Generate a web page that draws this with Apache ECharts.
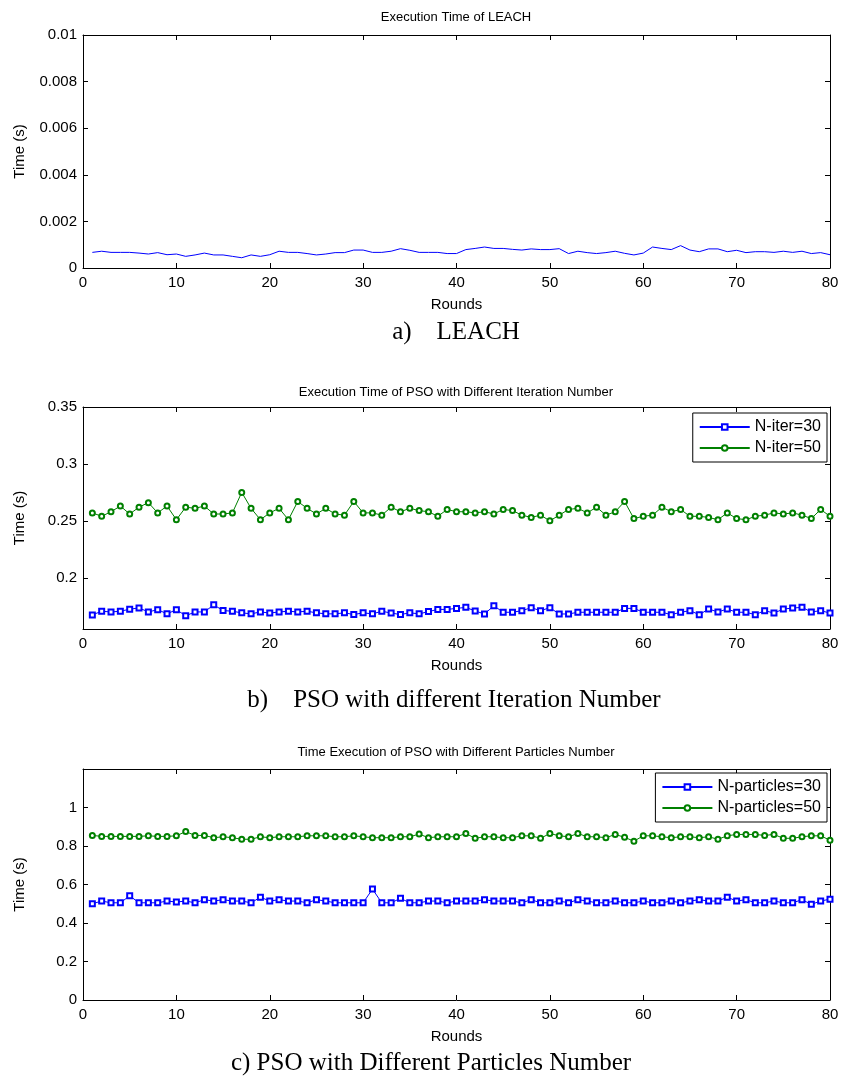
<!DOCTYPE html>
<html>
<head>
<meta charset="utf-8">
<script src="https://cdn.jsdelivr.net/npm/echarts@6/dist/echarts.min.js"></script>
<style>
html,body{margin:0;padding:0;background:#fff;}
#chart{width:849px;height:1080px;}
</style>
</head>
<body>
<div id="chart"></div>
<script>
// ---------- DATA ----------
const rounds = [1,2,3,4,5,6,7,8,9,10,11,12,13,14,15,16,17,18,19,20,
21,22,23,24,25,26,27,28,29,30,31,32,33,34,35,36,37,38,39,40,
41,42,43,44,45,46,47,48,49,50,51,52,53,54,55,56,57,58,59,60,
61,62,63,64,65,66,67,68,69,70,71,72,73,74,75,76,77,78,79,80];

const leachTime = [0.00067,0.00072,0.00067,0.00067,0.00067,0.00064,0.00060,0.00066,0.00057,0.00060,
0.00050,0.00056,0.00064,0.00056,0.00056,0.00050,0.00044,0.00056,0.00050,0.00057,
0.00072,0.00067,0.00067,0.00062,0.00056,0.00060,0.00066,0.00066,0.00077,0.00077,
0.00067,0.00067,0.00072,0.00083,0.00076,0.00067,0.00067,0.00067,0.00062,0.00062,
0.00079,0.00084,0.00090,0.00084,0.00084,0.00080,0.00077,0.00082,0.00079,0.00079,
0.00083,0.00062,0.00072,0.00066,0.00062,0.00066,0.00072,0.00063,0.00056,0.00064,
0.00090,0.00084,0.00079,0.00096,0.00077,0.00070,0.00082,0.00082,0.00070,0.00076,
0.00066,0.00070,0.00070,0.00067,0.00072,0.00067,0.00072,0.00062,0.00066,0.00057];

const iter30 = [0.1674,0.1706,0.1700,0.1706,0.1724,0.1735,0.1700,0.1720,0.1683,0.1720,
0.1666,0.1700,0.1700,0.1762,0.1712,0.1706,0.1692,0.1683,0.1700,0.1690,
0.1700,0.1706,0.1700,0.1706,0.1692,0.1683,0.1683,0.1692,0.1677,0.1692,
0.1683,0.1706,0.1690,0.1677,0.1692,0.1683,0.1703,0.1722,0.1722,0.1731,
0.1740,0.1708,0.1682,0.1754,0.1697,0.1697,0.1711,0.1737,0.1711,0.1737,
0.1682,0.1682,0.1697,0.1697,0.1697,0.1697,0.1697,0.1731,0.1731,0.1697,
0.1697,0.1697,0.1676,0.1697,0.1711,0.1676,0.1725,0.1700,0.1725,0.1697,
0.1697,0.1676,0.1711,0.1690,0.1725,0.1734,0.1740,0.1700,0.1711,0.1690];

const iter50 = [0.257,0.254,0.258,0.263,0.256,0.262,0.266,0.257,0.263,0.251,
0.262,0.261,0.263,0.256,0.256,0.257,0.275,0.261,0.251,0.257,
0.261,0.251,0.267,0.261,0.256,0.261,0.256,0.255,0.267,0.257,
0.257,0.255,0.262,0.258,0.261,0.259,0.258,0.254,0.260,0.258,
0.258,0.257,0.258,0.256,0.260,0.259,0.255,0.253,0.255,0.250,
0.255,0.260,0.261,0.257,0.262,0.255,0.258,0.267,0.252,0.254,
0.255,0.262,0.258,0.260,0.254,0.254,0.253,0.251,0.257,0.252,
0.251,0.254,0.255,0.257,0.256,0.257,0.255,0.252,0.260,0.254];

const part30 = [0.500,0.514,0.505,0.505,0.541,0.505,0.505,0.505,0.514,0.509,
0.514,0.505,0.521,0.514,0.521,0.514,0.514,0.505,0.534,0.514,
0.521,0.514,0.514,0.505,0.521,0.514,0.505,0.505,0.505,0.505,
0.576,0.505,0.505,0.528,0.505,0.505,0.514,0.514,0.505,0.514,
0.514,0.514,0.521,0.514,0.514,0.514,0.505,0.521,0.505,0.505,
0.514,0.505,0.521,0.514,0.505,0.505,0.514,0.505,0.505,0.514,
0.505,0.505,0.514,0.505,0.514,0.521,0.514,0.514,0.534,0.514,
0.521,0.505,0.505,0.514,0.505,0.505,0.521,0.497,0.514,0.524];

const part50 = [0.855,0.850,0.850,0.850,0.850,0.850,0.853,0.850,0.850,0.853,
0.875,0.855,0.855,0.843,0.848,0.843,0.835,0.835,0.848,0.843,
0.848,0.848,0.848,0.853,0.853,0.853,0.848,0.848,0.853,0.848,
0.843,0.843,0.843,0.848,0.848,0.862,0.843,0.848,0.848,0.848,
0.865,0.840,0.848,0.848,0.843,0.843,0.853,0.853,0.840,0.865,
0.853,0.848,0.865,0.848,0.848,0.843,0.860,0.845,0.825,0.853,
0.853,0.848,0.843,0.848,0.848,0.843,0.848,0.835,0.853,0.860,
0.860,0.860,0.855,0.860,0.840,0.840,0.848,0.853,0.853,0.830];

const panelTitles = ['Execution Time of LEACH',
  'Execution Time of PSO with Different Iteration Number',
  'Time Execution of PSO with Different Particles Number'];
const captions = ['a)    LEACH', 'b)    PSO with different Iteration Number', 'c) PSO with Different Particles Number'];
const seriesNames = ['LEACH', 'N-iter=30', 'N-iter=50', 'N-particles=30', 'N-particles=50'];
const xTicks = {min: 0, max: 80, interval: 10};
const yTicksA = {min: 0, max: 0.01, interval: 0.002};
const yTicksB = [0.2, 0.25, 0.3, 0.35];
const yTicksC = {min: 0, max: 1.2, interval: 0.2};
const xName = 'Rounds';
const yName = 'Time (s)';

// ---------- CHART ----------
const SANS = 'Liberation Sans, Arial, sans-serif';
const SERIF = 'Liberation Serif, Times New Roman, serif';
const pairs = v => rounds.map((r, i) => [r, v[i]]);

const grids = [
  {left: 83, right: 19, top: 35, height: 233},
  {left: 83, right: 19, top: 407, height: 222},
  {left: 83, right: 19, top: 769, height: 231}
];

function xAxes(gi) {
  const base = {
    type: 'value', gridIndex: gi, min: xTicks.min, max: xTicks.max, interval: xTicks.interval,
    splitLine: {show: false},
    axisLine: {show: true, onZero: false, lineStyle: {color: '#000', width: 1}},
    axisTick: {show: true, inside: true, length: 5, lineStyle: {color: '#000'}}
  };
  return [
    Object.assign({}, base, {
      position: 'bottom',
      name: xName, nameLocation: 'middle', nameGap: 29,
      nameTextStyle: {color: '#000', fontSize: 15, fontFamily: SANS},
      axisLabel: {color: '#000', fontSize: 15, fontFamily: SANS, margin: 7}
    }),
    Object.assign({}, base, {position: 'top', axisLabel: {show: false}})
  ];
}

function yAxes(gi, ext) {
  const base = Object.assign({
    type: 'value', gridIndex: gi,
    splitLine: {show: false},
    axisLine: {show: true, onZero: false, lineStyle: {color: '#000', width: 1}},
    axisTick: {show: true, inside: true, length: 5, lineStyle: {color: '#000'}}
  }, ext.base);
  const left = Object.assign({}, base, {
    position: 'left',
    name: yName, nameLocation: 'middle', nameGap: 56,
    nameTextStyle: {color: '#000', fontSize: 15, fontFamily: SANS},
    axisLabel: Object.assign({color: '#000', fontSize: 15, fontFamily: SANS, margin: 6}, ext.label || {})
  });
  const right = Object.assign({}, base, {position: 'right', axisLabel: {show: false}});
  if (ext.tick) { left.axisTick = Object.assign({}, base.axisTick, ext.tick); right.axisTick = Object.assign({}, base.axisTick, ext.tick); }
  return [left, right];
}

const xAxis = [].concat(xAxes(0), xAxes(1), xAxes(2));
const yAxis = [].concat(
  yAxes(0, {base: {min: yTicksA.min, max: yTicksA.max, interval: yTicksA.interval}}),
  yAxes(1, {base: {min: 0.155, max: 0.35}, label: {customValues: yTicksB}, tick: {customValues: yTicksB}}),
  yAxes(2, {base: {min: yTicksC.min, max: yTicksC.max, interval: yTicksC.interval}, label: {showMaxLabel: false}})
);

function lineSeries(name, data, xi, color, symbol) {
  return {
    name: name, type: 'line', xAxisIndex: xi, yAxisIndex: xi,
    data: pairs(data),
    color: color,
    showSymbol: !!symbol, symbol: symbol || 'none', symbolSize: 5,
    lineStyle: {color: color, width: 1},
    itemStyle: {color: color, borderColor: color, borderWidth: 1},
    emphasis: {disabled: true},
    animation: false
  };
}

const series = [
  lineSeries(seriesNames[0], leachTime, 0, '#0000ff', null),
  lineSeries(seriesNames[1], iter30, 2, '#0000ff', 'emptyRect'),
  lineSeries(seriesNames[2], iter50, 2, '#008000', 'emptyCircle'),
  lineSeries(seriesNames[3], part30, 4, '#0000ff', 'emptyRect'),
  lineSeries(seriesNames[4], part50, 4, '#008000', 'emptyCircle')
];

const legendBase = {
  orient: 'vertical', right: 22, backgroundColor: '#fff',
  borderColor: '#000', borderWidth: 1, padding: [6, 6, 6, 6], itemGap: 5,
  itemWidth: 50, itemHeight: 7,
  textStyle: {color: '#000', fontSize: 16, fontFamily: SANS}, selectedMode: false
};

const titleY = [17, 392, 752];
const capY = [332, 700, 1063];
const capX = [456, 454, 431];

const graphic = [];
panelTitles.forEach((t, i) => graphic.push({
  type: 'text', x: 456, y: titleY[i],
  style: {text: t, fill: '#000', font: '13px ' + SANS, align: 'center', verticalAlign: 'middle'}
}));
captions.forEach((t, i) => graphic.push({
  type: 'text', x: capX[i], y: capY[i],
  style: {text: t, fill: '#000', font: '25px ' + SERIF, align: 'center', verticalAlign: 'middle'}
}));

const chart = echarts.init(document.getElementById('chart'), null, {renderer: 'canvas'});
chart.setOption({
  animation: false,
  backgroundColor: '#fff',
  grid: grids,
  xAxis: xAxis,
  yAxis: yAxis,
  series: series,
  legend: [
    Object.assign({}, legendBase, {data: [seriesNames[1], seriesNames[2]], top: 413}),
    Object.assign({}, legendBase, {data: [seriesNames[3], seriesNames[4]], top: 773})
  ],
  graphic: graphic
});
</script>
</body>
</html>
